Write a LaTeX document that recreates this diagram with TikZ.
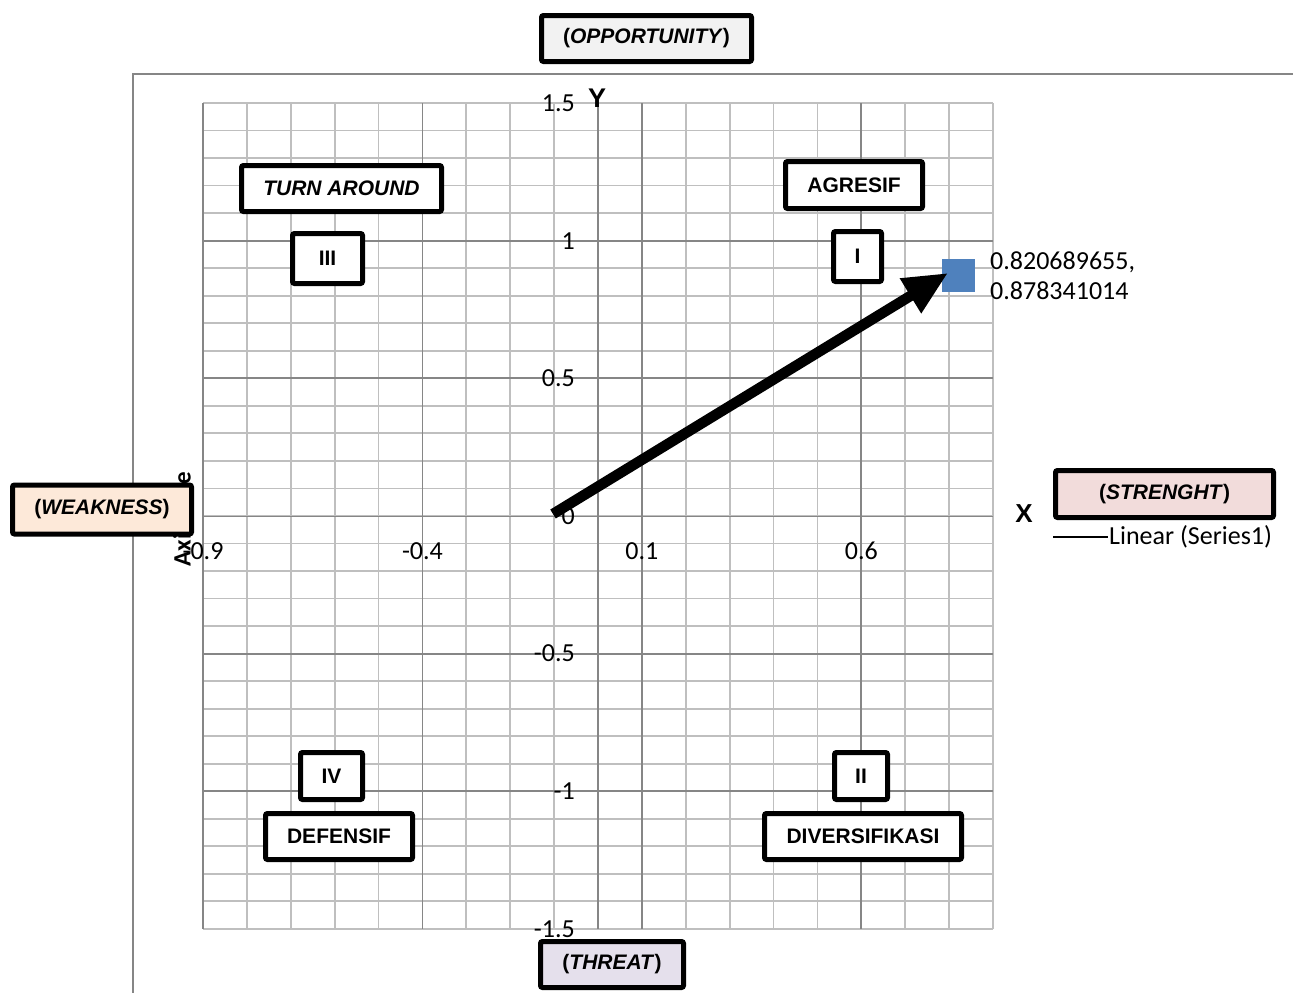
\documentclass[tikz,border=0pt]{standalone}
\usepackage{xcolor}
\usepackage{fontspec}
\usepackage{tikz}
\usetikzlibrary{arrows.meta}
\setmainfont{Carlito}
\newfontfamily\boxfont{Liberation Sans}
\definecolor{minorcolor}{RGB}{191,191,191}
\definecolor{majorcolor}{RGB}{134,134,134}
\definecolor{pointcolor}{RGB}{79,129,189}
\definecolor{weakcolor}{RGB}{253,233,217}
\definecolor{strongcolor}{RGB}{242,220,219}
\definecolor{threatcolor}{RGB}{229,224,236}
\definecolor{oppcolor}{RGB}{242,242,242}

\begin{document}
\begin{tikzpicture}[x=1pt,y=-1pt,
    minorgrid/.style={minorcolor, line width=1.8pt},
    majorgrid/.style={majorcolor, line width=1.8pt},
    tick/.style={font=\fontsize{26}{30}\selectfont, inner sep=1pt},
    quadbox/.style={draw=black, line width=5pt, rounded corners=2pt, fill=white,
        font=\boxfont\bfseries\fontsize{21}{24}\selectfont, inner sep=0pt},
    trend/.style={line width=10.5pt, -{Triangle[length=44pt,width=38pt]}}]
    \useasboundingbox (0,0) rectangle (1293,993);
    % chart area
    \draw[majorcolor, line width=1.5pt] (133,993) -- (133,74) -- (1293,74);
    \foreach \i in {0,1,...,18}
        \draw[minorgrid] ({203+\i*43.89},103) -- ++(0,826);
    \foreach \j in {0,1,...,30}
        \draw[minorgrid] (203,{103+\j*27.53}) -- ++(790,0);
    \foreach \i in {0,5,10,15}
        \draw[majorgrid] ({203+\i*43.89},103) -- ++(0,826);
    \foreach \j in {5,10,20,25}
        \draw[majorgrid] (203,{103+\j*27.53}) -- ++(790,0);
    % axes
    \draw[majorgrid] (203,516.5) -- (993,516.5);
    \draw[majorgrid] (598,103) -- (598,929);
    % tick labels
    \foreach \v [count=\j from 0] in {1.5,1,0.5,0,-0.5,-1,-1.5}
        \node[tick, anchor=east] (yt\j) at (576,{103+\j*137.65}) {\v};
    \foreach \v [count=\i from 0] in {-0.9,-0.4,0.1,0.6}
        \node[tick] (xt\i) at ({203+\i*219.45},551) {\v};
    \node[font=\bfseries\fontsize{25}{30}\selectfont, rotate=90] (axtitle) at (182,519) {Axis Title};
    \node[font=\boxfont\bfseries\fontsize{27}{30}\selectfont] (ylab) at (597,98) {Y};
    \node[font=\boxfont\bfseries\fontsize{26}{30}\selectfont] (xlab) at (1024,514) {X};
    % point and arrow
    \node[fill=pointcolor, minimum size=33pt, inner sep=0pt] (pt) at (958,275) {};
    \coordinate (tail) at (553,514);
    \coordinate (tip) at (948,273);
    \draw[trend] (tail) -- (tip);
    \node[tick, anchor=west, align=left] (ptlab) at (989,276) {0.820689655,\\0.878341014};
    % legend
    \coordinate (lgs) at (1053,537);
    \node[tick, anchor=west] (lgt) at (1108,537) {Linear (Series1)};
    \draw[black, line width=1.3pt] (lgs) -- (lgt.west);
    % boxes
    \node[quadbox, fill=oppcolor, minimum width=210pt, minimum height=46pt] (opp) at (646.5,38.5) {(\textit{OPPORTUNITY})};
    \node[quadbox, minimum width=200pt, minimum height=46pt] (turn) at (341.5,188.5) {\textit{TURN AROUND}};
    \node[quadbox, minimum width=70pt, minimum height=50pt] (q3) at (327.5,258.5) {III};
    \node[quadbox, minimum width=137pt, minimum height=47pt] (agr) at (854,185) {AGRESIF};
    \node[quadbox, minimum width=48pt, minimum height=50pt] (q1) at (857.5,256.5) {I};
    \node[quadbox, fill=weakcolor, minimum width=179pt, minimum height=49pt] (weak) at (102,509.5) {(\textit{WEAKNESS})};
    \node[quadbox, fill=strongcolor, minimum width=218pt, minimum height=47pt] (str) at (1164.5,494) {(\textit{STRENGHT})};
    \node[quadbox, fill=threatcolor, minimum width=143pt, minimum height=46pt] (thr) at (612,964.5) {(\textit{THREAT})};
    \node[quadbox, minimum width=62pt, minimum height=47pt] (q4) at (331.5,776) {IV};
    \node[quadbox, minimum width=147pt, minimum height=46pt] (def) at (339,836.5) {DEFENSIF};
    \node[quadbox, minimum width=53pt, minimum height=47pt] (q2) at (861,776) {II};
    \node[quadbox, minimum width=197pt, minimum height=46pt] (div) at (863,836.5) {DIVERSIFIKASI};
\end{tikzpicture}
\end{document}
